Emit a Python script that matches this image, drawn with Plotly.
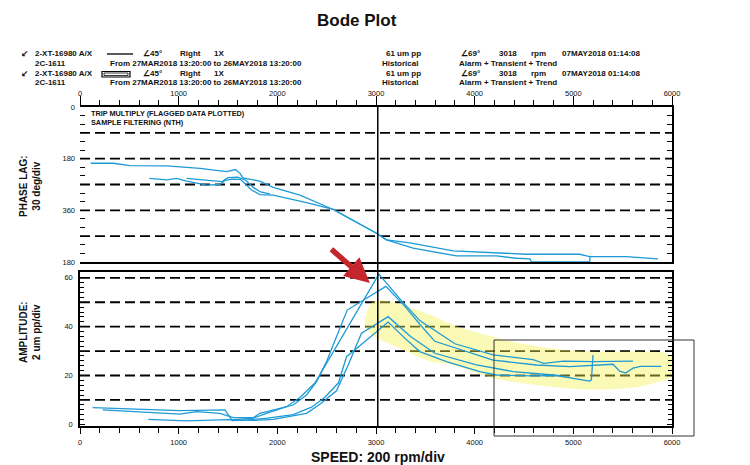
import plotly.graph_objects as go

# ---------------- data ----------------
# Phase lag (deg) vs speed (rpm)
phase1_rpm = [108, 338, 507, 878, 1216, 1486, 1575, 1625, 1650, 1823, 1958, 2229, 2566, 3005, 3106, 3343, 3782, 4525, 5065, 5166, 5537, 5858]
phase1_deg = [196, 196, 204, 205, 214, 225, 218, 232, 247, 258, 280, 307, 357, 440, 463, 473, 501, 513, 513, 521, 521, 529]
phase2_rpm = [702, 878, 979, 1081, 1283, 1418, 1469, 1540, 1625, 1739, 1823, 1958, 2296, 2566, 3005, 3106, 3376, 3816, 4221, 4424, 4559, 4576, 5166, 5170]
phase2_deg = [249, 254, 249, 258, 272, 270, 256, 251, 252, 289, 305, 307, 333, 357, 440, 463, 492, 519, 519, 527, 529, 540, 540, 521]
phase3_rpm = [1081, 1283, 1440, 1500, 1600, 1680, 1760, 1830, 1925]
phase3_deg = [249, 254, 260, 246, 244, 255, 281, 296, 303]

# Amplitude (um pp) vs speed (rpm)
amp1_rpm = [128, 506, 1013, 1469, 1537, 1756, 1890, 2093, 2229, 2381, 3029, 3250, 3444, 3800, 4187, 4592, 4700, 4900, 5200, 5605]
amp1_val = [6.8, 6.3, 5.6, 5.9, 1.8, 2.5, 4.5, 7.2, 11, 16.9, 61.5, 51, 42.5, 33, 28.4, 26.5, 25, 25.9, 25.7, 25.9]
amp2_rpm = [230, 1013, 1182, 1418, 1553, 1756, 1823, 2026, 2161, 2296, 2398, 2499, 2708, 3100, 3300, 3444, 3596, 4187, 4626, 4964, 5402, 5470, 5530, 5605, 5680, 5892]
amp2_val = [5.9, 4.2, 5.2, 4.5, 2.7, 2.7, 4.5, 6.5, 7.9, 12, 17.5, 25.7, 46.8, 56.5, 48, 41, 34, 26.3, 24.3, 23.6, 24.6, 21.8, 21.0, 23, 23.7, 23.7]
amp3_rpm = [692, 1081, 1503, 1756, 1958, 2161, 2296, 2431, 2600, 2718, 2853, 3123, 3350, 3596, 4018, 4390, 4795, 5166, 5183, 5200]
amp3_val = [2.0, 1.4, 1.9, 1.6, 2.0, 3.5, 4.5, 8.2, 13.7, 24.3, 37.3, 44.1, 36, 29.1, 24.3, 21.6, 20.2, 17.7, 18.2, 28.4]
amp4_rpm = [1537, 1700, 1900, 2161, 2347, 2480, 2620, 2701, 2836, 3123, 3300, 3444, 3714, 4052, 4221, 4600, 4863]
amp4_val = [1.5, 1.8, 2.5, 4.0, 7.0, 11.0, 17.0, 27.7, 32.2, 41.9, 35, 29.8, 25.7, 21.6, 20.2, 19.8, 20.0]

# highlighted region (hand-drawn marker band) in rpm / um pp
band_rpm = [2887, 2938, 3006, 3140, 3310, 3546, 3782, 4120, 4457, 4795, 5200, 5639, 5943, 6000, 6000, 5977,
            5875, 5639, 5133, 4627, 4187, 3782, 3546, 3310, 3039, 2938, 2887]
band_amp = [42.8, 48.9, 50.8, 50.4, 48.4, 44.9, 40.7, 36.6, 33.2, 31.1, 29.8, 29.8, 29.1, 27.2, 21, 19,
            17.5, 15.2, 14.3, 16.1, 18.9, 24.3, 25.8, 29.9, 34.7, 37.4, 40.3]

peak_rpm = 3018
arrow_rpm, arrow_amp = 2938, 57.9

x_ticks = [0, 1000, 2000, 3000, 4000, 5000, 6000]
phase_ticks = [0, 180, 360, 540]
phase_ticktext = ["0", "180", "360", "180"]
phase_grid = [90, 180, 270, 360, 450]
amp_ticks = [0, 20, 40, 60]
amp_grid = [10, 20, 30, 40, 50, 60]

BLUE = "#1e9ad6"
FONT_W = "Liberation Sans, Arial, sans-serif"

# ---------------- layout geometry ----------------
W, H = 750, 465
L, R, T, B = 80, 78, 107, 39
PW, PH = W - L - R, H - T - B


def px(x):
    return (x - L) / PW


def py(y):
    return (H - B - y) / PH


fig = go.Figure()

for xs, ys in [(phase1_rpm, phase1_deg), (phase2_rpm, phase2_deg), (phase3_rpm, phase3_deg)]:
    fig.add_trace(go.Scatter(x=xs, y=ys, xaxis="x", yaxis="y", mode="lines",
                             line=dict(color=BLUE, width=1.3), showlegend=False, hoverinfo="skip"))

fig.add_trace(go.Scatter(x=band_rpm, y=band_amp, xaxis="x2", yaxis="y2", mode="lines", fill="toself",
                         fillcolor="rgba(245,240,80,0.42)", line=dict(width=0, shape="spline"),
                         showlegend=False, hoverinfo="skip"))

for xs, ys in [(amp1_rpm, amp1_val), (amp2_rpm, amp2_val), (amp3_rpm, amp3_val), (amp4_rpm, amp4_val)]:
    fig.add_trace(go.Scatter(x=xs, y=ys, xaxis="x2", yaxis="y2", mode="lines",
                             line=dict(color=BLUE, width=1.3), showlegend=False, hoverinfo="skip"))

# invisible trace to activate right-hand phase axis
fig.add_trace(go.Scatter(x=[0], y=[0], xaxis="x", yaxis="y3", mode="markers",
                         marker=dict(opacity=0), showlegend=False, hoverinfo="skip"))

tickfont = dict(family=FONT_W, size=7.5, color="#111")
phase_dom = [py(262), 1]
amp_dom = [0, py(272)]

fig.update_layout(
    width=W, height=H,
    margin=dict(l=L, r=R, t=T, b=B),
    paper_bgcolor="white", plot_bgcolor="white",
    xaxis=dict(domain=[0, 1], anchor="y", side="top", range=[0, 6000], tickvals=x_ticks,
               showline=True, linecolor="black", linewidth=1.5, mirror=True,
               ticks="outside", ticklen=9, tickwidth=1.2, tickcolor="black",
               minor=dict(dtick=200, ticks="outside", ticklen=5, tickwidth=1.2, tickcolor="black"),
               showgrid=False, zeroline=False, tickfont=tickfont, ticklabelstandoff=-3),
    yaxis=dict(domain=phase_dom, anchor="x", range=[540, 0], tickvals=phase_ticks, ticktext=phase_ticktext,
               showline=False, ticks="inside", ticklen=5, tickwidth=1.2, tickcolor="black",
               minor=dict(dtick=30, ticks="inside", ticklen=5, tickwidth=1.2, tickcolor="black"),
               showgrid=False, zeroline=False, tickfont=tickfont, ticklabelstandoff=4),
    yaxis3=dict(overlaying="y", anchor="x", side="right", range=[540, 0], tickvals=phase_ticks,
                showticklabels=False, showline=True, linecolor="black", linewidth=1.5,
                ticks="inside", ticklen=5, tickwidth=1.2, tickcolor="black",
                minor=dict(dtick=30, ticks="inside", ticklen=5, tickwidth=1.2, tickcolor="black"),
                showgrid=False, zeroline=False),
    xaxis2=dict(domain=[0, 1], anchor="y2", side="bottom", range=[0, 6000], tickvals=x_ticks,
                showline=True, linecolor="black", linewidth=1.5, mirror=True,
                ticks="outside", ticklen=6, tickwidth=1.2, tickcolor="black",
                minor=dict(dtick=200, ticks="outside", ticklen=5, tickwidth=1.2, tickcolor="black"),
                showgrid=False, zeroline=False, tickfont=tickfont, ticklabelstandoff=2),
    yaxis2=dict(domain=amp_dom, anchor="x2", range=[-0.7, 62.4], tickvals=amp_ticks,
                showline=True, linecolor="black", linewidth=1.5, mirror="ticks",
                ticks="inside", ticklen=5, tickwidth=1.2, tickcolor="black",
                minor=dict(dtick=2, ticks="inside", ticklen=4, tickwidth=1.2, tickcolor="black"),
                showgrid=False, zeroline=False, tickfont=tickfont, ticklabelstandoff=4),
)

shapes = []
for g in phase_grid:
    shapes.append(dict(type="line", xref="x domain", yref="y", x0=0, x1=1, y0=g, y1=g, layer="below",
                       line=dict(color="black", width=1.8, dash="10px,5px")))
for g in amp_grid:
    shapes.append(dict(type="line", xref="x2 domain", yref="y2", x0=0, x1=1, y0=g, y1=g, layer="below",
                       line=dict(color="black", width=1.8, dash="10px,5px")))
# reference speed line across both plots
shapes.append(dict(type="line", xref="x", yref="paper", x0=peak_rpm, x1=peak_rpm, y0=0, y1=1,
                   line=dict(color="black", width=1.5)))
# zoom box around high-speed region
shapes.append(dict(type="rect", xref="paper", yref="paper", x0=px(494), x1=px(694), y0=py(436), y1=py(340),
                   line=dict(color="#333", width=1)))
# legend samples
shapes.append(dict(type="line", xref="paper", yref="paper", x0=px(107), x1=px(133), y0=py(54), y1=py(54),
                   line=dict(color="black", width=1.3)))
shapes.append(dict(type="rect", xref="paper", yref="paper", x0=px(102), x1=px(130), y0=py(77), y1=py(71.5),
                   line=dict(color="black", width=1.2)))
shapes.append(dict(type="rect", xref="paper", yref="paper", x0=px(104), x1=px(128), y0=py(75.5), y1=py(73),
                   line=dict(color="black", width=0.8)))
fig.update_layout(shapes=shapes)

ann = []


def txt(s, x, y, size=8, anchor="left", family=FONT_W, **kw):
    ann.append(dict(text=s, x=px(x), y=py(y), xref="paper", yref="paper", showarrow=False,
                    xanchor=anchor, yanchor="middle", font=dict(family=family, size=size, color="#111"), **kw))


txt("<b>Bode Plot</b>", 357, 20, size=17, anchor="center")
for yy in (54, 73.5):
    txt("<b>↙</b>", 25, yy, size=9, anchor="center", family="DejaVu Sans")
    txt("<b>2-XT-16980 A/X</b>", 33, yy)
    txt("<b>∠45°</b>", 141, yy)
    txt("<b>Right</b>", 178, yy)
    txt("<b>1X</b>", 212, yy)
    txt("<b>61 um pp</b>", 423, yy, anchor="right")
    txt("<b>∠69°</b>", 459, yy)
    txt("<b>3018</b>", 497, yy)
    txt("<b>rpm</b>", 529, yy)
    txt("<b>07MAY2018 01:14:08</b>", 560, yy)
for yy in (63.5, 82.5):
    txt("<b>2C-1611</b>", 33, yy)
    txt("<b>From 27MAR2018 13:20:00 to 26MAY2018 13:20:00</b>", 108, yy)
    txt("<b>Historical</b>", 380, yy)
    txt("<b>Alarm + Transient + Trend</b>", 457, yy)

txt("<b>TRIP MULTIPLY (FLAGGED DATA PLOTTED)</b>", 89, 113.5, size=7.3)
txt("<b>SAMPLE FILTERING (NTH)</b>", 89, 122.5, size=7.3)
txt("<b>SPEED: 200 rpm/div</b>", 378, 457, size=14, anchor="center")
txt("<b>PHASE LAG:<br>30 deg/div</b>", 30, 186, size=10, anchor="center", textangle=-90)
txt("<b>AMPLITUDE:<br>2 um pp/div</b>", 30, 332, size=10, anchor="center", textangle=-90)

ann.append(dict(x=arrow_rpm, y=arrow_amp, xref="x2", yref="y2", ax=-40, ay=-35, axref="pixel", ayref="pixel",
                showarrow=True, arrowhead=2, arrowsize=0.9, arrowwidth=5.5, arrowcolor="#c4262e", text=""))
fig.update_layout(annotations=ann)

fig.write_html("out.html", config={"displayModeBar": False},
               post_script="document.body.style.margin='0px';")
